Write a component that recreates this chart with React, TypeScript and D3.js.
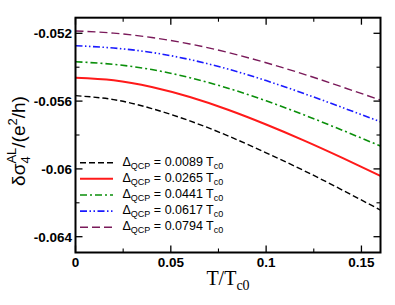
import React from "react";
import * as d3 from "d3";

const temps = [0, 0.02, 0.04, 0.06, 0.08, 0.1, 0.12, 0.14, 0.16];
const gap0089 = [-0.05568, -0.05591, -0.05644, -0.05717, -0.05805, -0.05905, -0.06011, -0.06125, -0.06243];
const gap0265 = [-0.05462, -0.05477, -0.05517, -0.05576, -0.05651, -0.05738, -0.05833, -0.05935, -0.06041];
const gap0441 = [-0.05368, -0.05383, -0.05414, -0.05462, -0.05524, -0.05598, -0.05682, -0.05772, -0.05865];
const gap0617 = [-0.05273, -0.05287, -0.05313, -0.05355, -0.05411, -0.05479, -0.05556, -0.05638, -0.05722];
const gap0794 = [-0.05186, -0.05199, -0.05225, -0.05263, -0.05313, -0.05374, -0.05442, -0.05517, -0.05594];
const gapLabels = ["0.0089", "0.0265", "0.0441", "0.0617", "0.0794"];
const xTicks = [0, 0.05, 0.1, 0.15];
const xTickLabels = ["0", "0.05", "0.1", "0.15"];
const yTicks = [-0.052, -0.056, -0.06, -0.064];
const yTickLabels = ["-0.052", "-0.056", "-0.06", "-0.064"];

const seriesList = [
  { values: gap0089, color: "#000000", dash: "6,3", width: 1.4 },
  { values: gap0265, color: "#ff1a1a", dash: "", width: 2 },
  { values: gap0441, color: "#0a8f0a", dash: "7,3,2,3", width: 1.6 },
  { values: gap0617, color: "#1a1aff", dash: "7,2.5,1.5,2.5,1.5,2.5", width: 1.6 },
  { values: gap0794, color: "#7a1a5a", dash: "8,4", width: 1.4 },
];

export default function App() {
  const W = 395, H = 305;
  const L = 75.5, R = 380.5, T = 17.7, B = 252.5;
  const x = d3.scaleLinear().domain([0, 0.16]).range([L, R]);
  const y = d3.scaleLinear().domain([-0.052, -0.064]).range([33.3, 236.7]);
  const line = d3
    .line<number>()
    .x((_, i) => x(temps[i]))
    .y((d) => y(d))
    .curve(d3.curveNatural);

  const xMinor = d3.range(0, 0.1601, 0.025).filter((v) => !xTicks.some((t) => Math.abs(t - v) < 1e-6));
  const yMinor = [-0.05, -0.054, -0.058, -0.062].filter((v) => y(v) > T + 1 && y(v) < B - 1);
  const sans = "'Liberation Sans', Arial, Helvetica, sans-serif";
  const serif = "'Liberation Serif', 'Times New Roman', serif";

  return (
    <svg width={W} height={H} style={{ position: "absolute", left: 0, top: 0, background: "#fff" }}>
      <rect x={0} y={0} width={W} height={H} fill="#fff" />
      <defs>
        <clipPath id="plotclip">
          <rect x={L} y={T} width={R - L} height={B - T} />
        </clipPath>
      </defs>
      <g clipPath="url(#plotclip)">
        {seriesList.map((s, i) => (
          <path
            key={i}
            d={line(s.values) || ""}
            fill="none"
            stroke={s.color}
            strokeWidth={s.width}
            strokeDasharray={s.dash || undefined}
          />
        ))}
      </g>
      {xTicks.map((t, i) => (
        <g key={"xt" + i}>
          <line x1={x(t)} x2={x(t)} y1={B} y2={B - 7} stroke="#000" strokeWidth={1.3} />
          <line x1={x(t)} x2={x(t)} y1={T} y2={T + 7} stroke="#000" strokeWidth={1.3} />
          <text x={x(t)} y={267} textAnchor="middle" fontFamily={sans} fontWeight="bold" fontSize={13.5}>
            {xTickLabels[i]}
          </text>
        </g>
      ))}
      {xMinor.map((t, i) => (
        <g key={"xm" + i}>
          <line x1={x(t)} x2={x(t)} y1={B} y2={B - 4} stroke="#000" strokeWidth={1.1} />
          <line x1={x(t)} x2={x(t)} y1={T} y2={T + 4} stroke="#000" strokeWidth={1.1} />
        </g>
      ))}
      {yTicks.map((t, i) => (
        <g key={"yt" + i}>
          <line x1={L} x2={L + 7} y1={y(t)} y2={y(t)} stroke="#000" strokeWidth={1.3} />
          <line x1={R} x2={R - 7} y1={y(t)} y2={y(t)} stroke="#000" strokeWidth={1.3} />
          <text x={72} y={y(t) + 5} textAnchor="end" fontFamily={sans} fontWeight="bold" fontSize={13.5}>
            {yTickLabels[i]}
          </text>
        </g>
      ))}
      {yMinor.map((t, i) => (
        <g key={"ym" + i}>
          <line x1={L} x2={L + 4} y1={y(t)} y2={y(t)} stroke="#000" strokeWidth={1.1} />
          <line x1={R} x2={R - 4} y1={y(t)} y2={y(t)} stroke="#000" strokeWidth={1.1} />
        </g>
      ))}
      <rect x={L} y={T} width={R - L} height={B - T} fill="none" stroke="#000" strokeWidth={2} />
      {seriesList.map((s, i) => {
        const yy = 162.7 + i * 16.15;
        return (
          <g key={"lg" + i}>
            <line x1={80} x2={113} y1={yy} y2={yy} stroke={s.color} strokeWidth={s.width} strokeDasharray={s.dash || undefined} />
            <text x={122.5} y={yy + 3} fontFamily={sans} fontSize={12.5}>
              <tspan>Δ</tspan>
              <tspan fontSize={9} dy={3}>QCP</tspan>
              <tspan dy={-3}> = {gapLabels[i]} T</tspan>
              <tspan fontSize={9} dy={3}>c0</tspan>
            </text>
          </g>
        );
      })}
      <text x={228} y={285} textAnchor="middle" fontFamily={serif} fontSize={20}>
        <tspan>T/T</tspan>
        <tspan fontSize={14} dy={5}>c0</tspan>
      </text>
      <text transform="translate(25,141) rotate(-90)" textAnchor="middle" fontFamily={sans} fontSize={19}>
        <tspan>δσ</tspan>
        <tspan fontSize={13} dy={5}>4</tspan>
        <tspan fontSize={13} dx={-7.2} dy={-14}>AL</tspan>
        <tspan dy={9}>/(e</tspan>
        <tspan fontSize={13} dy={-8}>2</tspan>
        <tspan dy={8}>/h)</tspan>
      </text>
    </svg>
  );
}
